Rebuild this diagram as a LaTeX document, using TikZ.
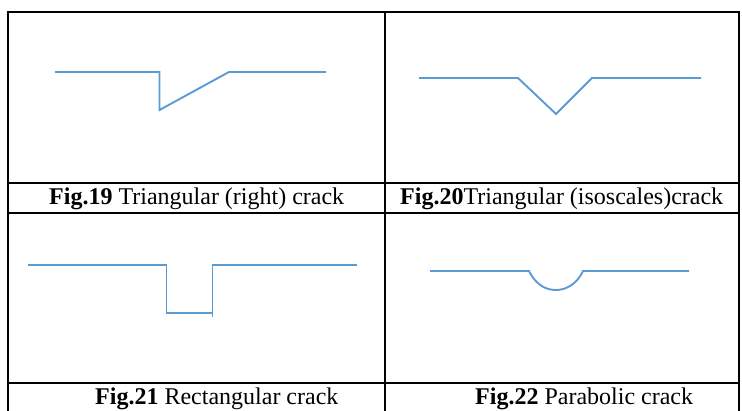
\documentclass[tikz,border=0pt]{standalone}
\usepackage{fontspec}
\setmainfont{Liberation Serif}
\definecolor{crackblue}{HTML}{5B9BD5}
\tikzset{
  grid/.style={black, line width=1.8pt},
  crackline/.style={crackblue, line width=1.9pt, line join=miter},
  caption/.style={anchor=base west, inner sep=0pt, font=\fontsize{24}{28}\selectfont}
}
\begin{document}
\begin{tikzpicture}[x=1pt,y=-1pt]
\useasboundingbox (0,0) rectangle (742,411);
% table
\draw[grid] (8,420) -- (8,12) -- (739,12) -- (739,420);
\draw[grid] (385,12) -- (385,420);
\draw[grid] (8,183) -- (739,183);
\draw[grid] (8,213) -- (739,213);
\draw[grid] (8,383) -- (739,383);
% Fig 19
\draw[crackline] (55,72) -- (159.5,72) -- (159.5,110) -- (229,72) -- (326,72);
% Fig 20
\draw[crackline] (419,78) -- (518,78) -- (556,114) -- (592,78) -- (701,78);
% Fig 21
\draw[crackline] (28,265) -- (166.5,265) -- (166.5,313) -- (212.5,313);
\draw[crackline] (212.5,317) -- (212.5,265) -- (357,265);
% Fig 22
\draw[crackline] (430,271) -- (529,271) .. controls (537,287) and (548,290) .. (556,290) .. controls (564,290) and (576,286) .. (583,271) -- (689,271);
% captions
\node[caption] (c19) at (49,205) {\textbf{Fig.19} Triangular (right) crack};
\node[caption] (c20) at (400,205) {\textbf{Fig.20}Triangular (isoscales)crack};
\node[caption] (c21) at (95,405) {\textbf{Fig.21} Rectangular crack};
\node[caption] (c22) at (475,405) {\textbf{Fig.22} Parabolic crack};
\end{tikzpicture}
\end{document}
